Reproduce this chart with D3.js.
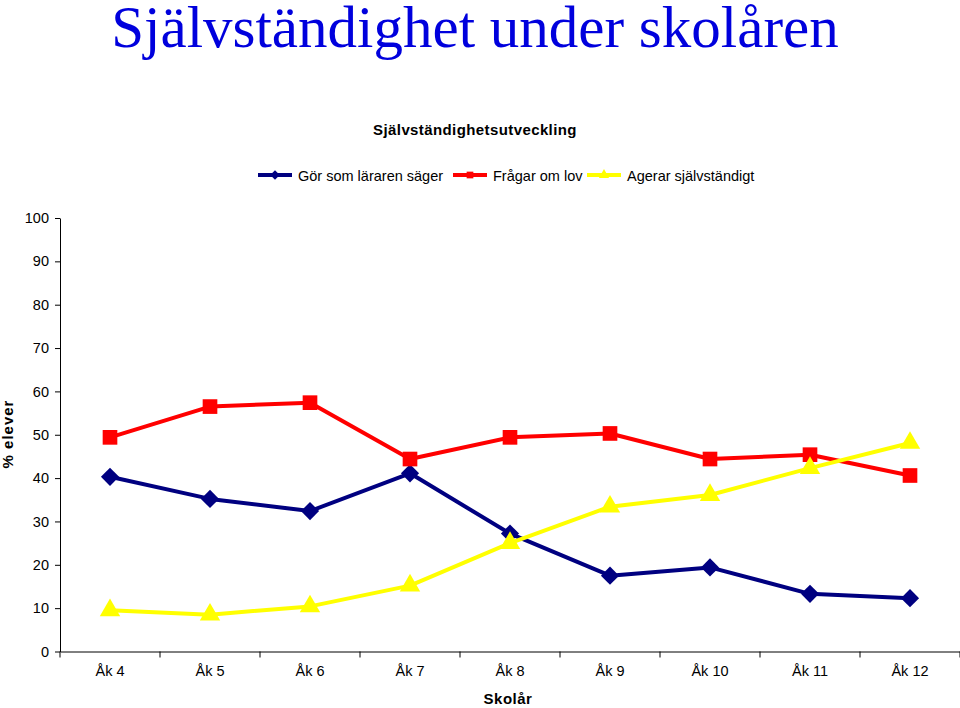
<!DOCTYPE html>
<html><head><meta charset="utf-8">
<script src="https://cdn.jsdelivr.net/npm/d3@7"></script>
<style>body{margin:0;background:#fff}svg{display:block}</style>
</head><body>
<svg id="c" width="960" height="708"></svg>
<script>
const categories = ["Åk 4","Åk 5","Åk 6","Åk 7","Åk 8","Åk 9","Åk 10","Åk 11","Åk 12"];
const gorSomLararen = [40.3, 35.2, 32.4, 41.1, 27.2, 17.5, 19.4, 13.3, 12.3];
const fragarOmLov = [49.4, 56.5, 57.4, 44.4, 49.4, 50.3, 44.4, 45.4, 40.6];
const agerarSjalv = [9.5, 8.5, 10.4, 15.2, 25.0, 33.4, 36.1, 42.3, 48.1];
const seriesNames = ["Gör som läraren säger","Frågar om lov","Agerar självständigt"];
const yTicks = [0,10,20,30,40,50,60,70,80,90,100];

const svg = d3.select("#c");
const SANS = "'Liberation Sans',Arial,sans-serif";
const x = d3.scaleBand().domain(categories).range([60, 960]).paddingInner(0).paddingOuter(0);
const y = d3.scaleLinear().domain([0,100]).range([651.5, 218]);

// Title
svg.append("text").attr("x", 475).attr("y", 47).attr("text-anchor","middle")
  .style("font-family","'Liberation Serif','Times New Roman',serif").style("font-size","59px")
  .attr("fill","#0000dd").text("Självständighet under skolåren");
svg.append("text").attr("x", 475).attr("y", 135).attr("text-anchor","middle")
  .style("font-family",SANS).style("font-size","15px").style("font-weight","bold").style("letter-spacing","0.4px")
  .attr("fill","#000").text("Självständighetsutveckling");

// Axes
const yAxis = d3.axisLeft(y).tickValues(yTicks).tickSize(5).tickPadding(6).tickSizeOuter(0);
const gy = svg.append("g").attr("transform","translate(60,0)").call(yAxis);
gy.selectAll("text").style("font-family",SANS).style("font-size","14.5px").attr("fill","#000");
gy.selectAll("line,path").attr("stroke","#000");

const xAxis = d3.axisBottom(x).tickSize(0).tickPadding(14).tickSizeOuter(0);
const gx = svg.append("g").attr("transform","translate(0,651.5)").call(xAxis);
gx.selectAll("text").style("font-family",SANS).style("font-size","14.5px").attr("fill","#000");
gx.selectAll("path").attr("stroke","#000");
const bounds = categories.map(c => x(c)).concat([x(categories[categories.length-1]) + x.bandwidth()]);
gx.selectAll(".btick").data(bounds).enter().append("line").attr("class","btick")
  .attr("x1", d=>d).attr("x2", d=>d).attr("y1",0).attr("y2",6).attr("stroke","#000");

svg.append("text").attr("transform","translate(13,434) rotate(-90)").attr("text-anchor","middle")
  .style("font-family",SANS).style("font-size","15px").style("font-weight","bold").style("letter-spacing","1px")
  .text("% elever");
svg.append("text").attr("x", 508).attr("y", 704).attr("text-anchor","middle")
  .style("font-family",SANS).style("font-size","15px").style("font-weight","bold").style("letter-spacing","0.5px")
  .text("Skolår");

const diamond = {draw(ctx, size){ const r = Math.sqrt(size)/2*Math.SQRT2; ctx.moveTo(0,-r); ctx.lineTo(r,0); ctx.lineTo(0,r); ctx.lineTo(-r,0); ctx.closePath(); }};
const series = [
  {name: seriesNames[0], values: gorSomLararen, color:"#000080", sym: diamond, size: 165},
  {name: seriesNames[1], values: fragarOmLov, color:"#ff0000", sym: d3.symbolSquare, size: 215},
  {name: seriesNames[2], values: agerarSjalv, color:"#ffff00", sym: d3.symbolTriangle, size: 180}
];
const cx = c => x(c) + x.bandwidth()/2;
const line = d3.line().x((d,i)=>cx(categories[i])).y(d=>y(d));

series.forEach(s => {
  svg.append("path").datum(s.values).attr("d", line).attr("fill","none")
    .attr("stroke", s.color).attr("stroke-width",4).attr("stroke-linejoin","round");
});
series.forEach(s => {
  svg.selectAll(null).data(s.values).enter().append("path")
    .attr("d", d3.symbol().type(s.sym).size(s.size))
    .attr("transform",(d,i)=>`translate(${cx(categories[i])},${y(d)})`)
    .attr("fill", s.color);
});

// Legend
const legX = [258, 453, 587];
const lg = svg.append("g");
series.forEach((s,i) => {
  const g = lg.append("g").attr("transform",`translate(${legX[i]},175)`);
  g.append("line").attr("x1",0).attr("x2",34).attr("y1",0).attr("y2",0).attr("stroke",s.color).attr("stroke-width",4);
  g.append("path").attr("d", d3.symbol().type(s.sym).size(45)).attr("transform","translate(17,0)").attr("fill",s.color);
  g.append("text").attr("x",40).attr("y",5.5)
    .style("font-family",SANS).style("font-size","14.5px").text(s.name);
});
</script>
</body></html>
